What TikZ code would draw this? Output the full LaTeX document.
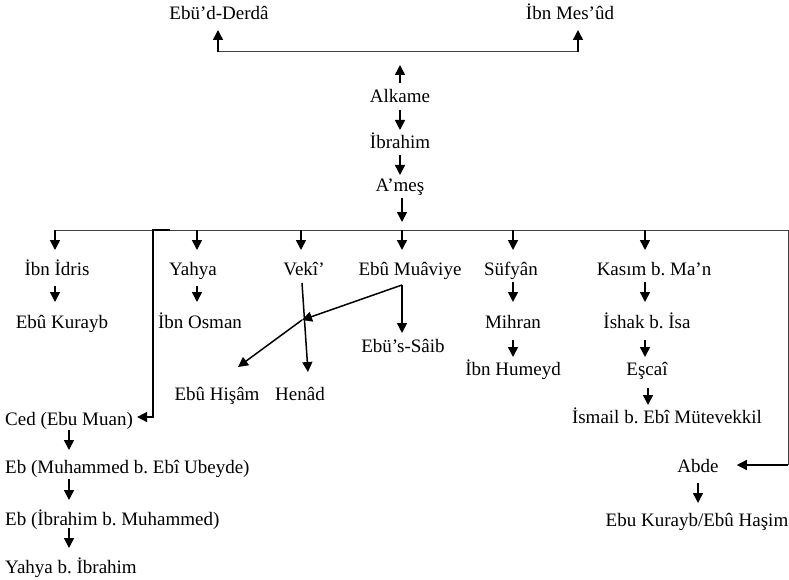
\documentclass[tikz,border=0pt]{standalone}
\usepackage{fontspec}
\setmainfont{Liberation Serif}
\usetikzlibrary{arrows.meta,calc}
\tikzset{
  lbl/.style={inner sep=0pt,anchor=base,font=\fontsize{19}{22}\selectfont\frenchspacing},
  lblw/.style={lbl,anchor=base west},
  arr/.style={line width=1.5pt,-{Triangle[length=10pt,width=10pt]}},
  bus/.style={line width=1pt,black!75},
}
\begin{document}
\begin{tikzpicture}[x=1pt,y=-1pt]
\useasboundingbox (0,0) rectangle (789,580);
% nodes
\node[lbl] (derda) at (219,20) {Ebü’d-Derdâ};
\node[lbl] (mesud) at (570,20) {İbn Mes’ûd};
\node[lbl] (alkame) at (400,103) {Alkame};
\node[lbl] (ibrahim) at (400,149) {İbrahim};
\node[lbl] (ames) at (400,192) {A’meş};
\node[lbl] (idris) at (57,275) {İbn İdris};
\node[lbl] (yahya) at (193,275) {Yahya};
\node[lbl] (veki) at (304,275) {Vekî’};
\node[lbl] (muaviye) at (410,275) {Ebû Muâviye};
\node[lbl] (sufyan) at (511,275) {Süfyân};
\node[lbl] (kasim) at (654,275) {Kasım b. Ma’n};
\node[lbl] (kurayb) at (62,328) {Ebû Kurayb};
\node[lbl] (osman) at (200,328) {İbn Osman};
\node[lbl] (saib) at (403,352) {Ebü’s-Sâib};
\node[lbl] (mihran) at (513,328) {Mihran};
\node[lbl] (ishak) at (647,328) {İshak b. İsa};
\node[lbl] (humeyd) at (513,375) {İbn Humeyd};
\node[lbl] (escai) at (647,375) {Eşcaî};
\node[lbl] (hisam) at (217,400) {Ebû Hişâm};
\node[lbl] (henad) at (300,400) {Henâd};
\node[lblw] (ced) at (5,425) {Ced (Ebu Muan)};
\node[lbl] (ismail) at (667,423) {İsmail b. Ebî Mütevekkil};
\node[lblw] (ubeyde) at (5,473) {Eb (Muhammed b. Ebî Ubeyde)};
\node[lbl] (abde) at (698,472) {Abde};
\node[lblw] (ebib) at (5,525) {Eb (İbrahim b. Muhammed)};
\node[lbl] (hasim) at (697,526) {Ebu Kurayb/Ebû Haşim};
\node[lblw] (yahyab) at (5,573) {Yahya b. İbrahim};
% top
\coordinate (tl) at ($(derda.base)+(-1,32)$);
\coordinate (tr) at ($(mesud.base)+(8,32)$);
\draw[bus] (tl) -- (tr);
\draw[arr] (tl) -- ($(derda.base)+(-1,10)$);
\draw[arr] (tr) -- ($(mesud.base)+(8,10)$);
\draw[arr] ($(alkame.base)+(0,-20)$) -- ($(alkame.base)+(0,-38)$);
\draw[arr] ($(alkame.base)+(0,7)$) -- ($(ibrahim.base)+(0,-19)$);
\draw[arr] ($(ibrahim.base)+(0,6)$) -- ($(ames.base)+(0,-17)$);
\draw[arr] ($(ames.base)+(2,6)$) -- ($(ames.base)+(2,30)$);
% bus
\coordinate (bl) at (55,230);
\coordinate (br) at (788,230);
\coordinate (rc) at (788,465);
\draw[bus] (bl) -- (br) -- (rc);
\draw[arr] (rc) -- ($(abde.base east)+(18,-7)$);
\draw[arr] ($(idris.base)+(-2,-45)$) -- ($(idris.base)+(-2,-25)$);
\draw[arr] ($(yahya.base)+(4,-45)$) -- ($(yahya.base)+(4,-25)$);
\draw[arr] ($(veki.base)+(-3,-45)$) -- ($(veki.base)+(-3,-25)$);
\draw[arr] ($(muaviye.base)+(-8,-45)$) -- ($(muaviye.base)+(-8,-25)$);
\draw[arr] ($(sufyan.base)+(2,-45)$) -- ($(sufyan.base)+(2,-25)$);
\draw[arr] ($(kasim.base)+(-9,-45)$) -- ($(kasim.base)+(-9,-25)$);
% second level
\draw[arr] ($(idris.base)+(-2,11)$) -- ($(kurayb.base)+(-7,-26)$);
\draw[arr] ($(yahya.base)+(4,11)$) -- ($(osman.base)+(-3,-26)$);
\draw[arr] ($(sufyan.base)+(2,7)$) -- ($(mihran.base)+(0,-26)$);
\draw[arr] ($(kasim.base)+(-9,7)$) -- ($(ishak.base)+(-2,-26)$);
\draw[arr] ($(mihran.base)+(0,12)$) -- ($(humeyd.base)+(0,-18)$);
\draw[arr] ($(ishak.base)+(-2,12)$) -- ($(escai.base)+(-2,-18)$);
\draw[arr] ($(escai.base)+(1,13)$) -- ($(ismail.base)+(-19,-18)$);
% Ebu Muaviye and Veki
\coordinate (mv) at ($(muaviye.base)+(-8,10)$);
\coordinate (cross) at ($(veki.base)+(-2,45)$);
\draw[arr] (mv) -- ($(saib.base)+(-1,-19)$);
\draw[arr] (mv) -- (cross);
\draw[arr] ($(veki.base)+(-2,8)$) -- ($(henad.base)+(8,-28)$);
\draw[arr] (cross) -- ($(hisam.base)+(21,-33)$);
% left branch
\coordinate (vk) at (153,230);
\coordinate (cedtip) at ($(ced.base east)+(4,-8)$);
\draw[arr] ($(vk)+(17,0)$) -- (vk) -- (vk |- cedtip) -- (cedtip);
\draw[arr] ($(ced.base west)+(64,5)$) -- ($(ubeyde.base west)+(64,-23)$);
\draw[arr] ($(ubeyde.base west)+(64,6)$) -- ($(ebib.base west)+(64,-25)$);
\draw[arr] ($(ebib.base west)+(64,3)$) -- ($(yahyab.base west)+(64,-25)$);
\draw[arr] ($(abde.base)+(0,11)$) -- ($(hasim.base)+(1,-23)$);
\end{tikzpicture}
\end{document}
